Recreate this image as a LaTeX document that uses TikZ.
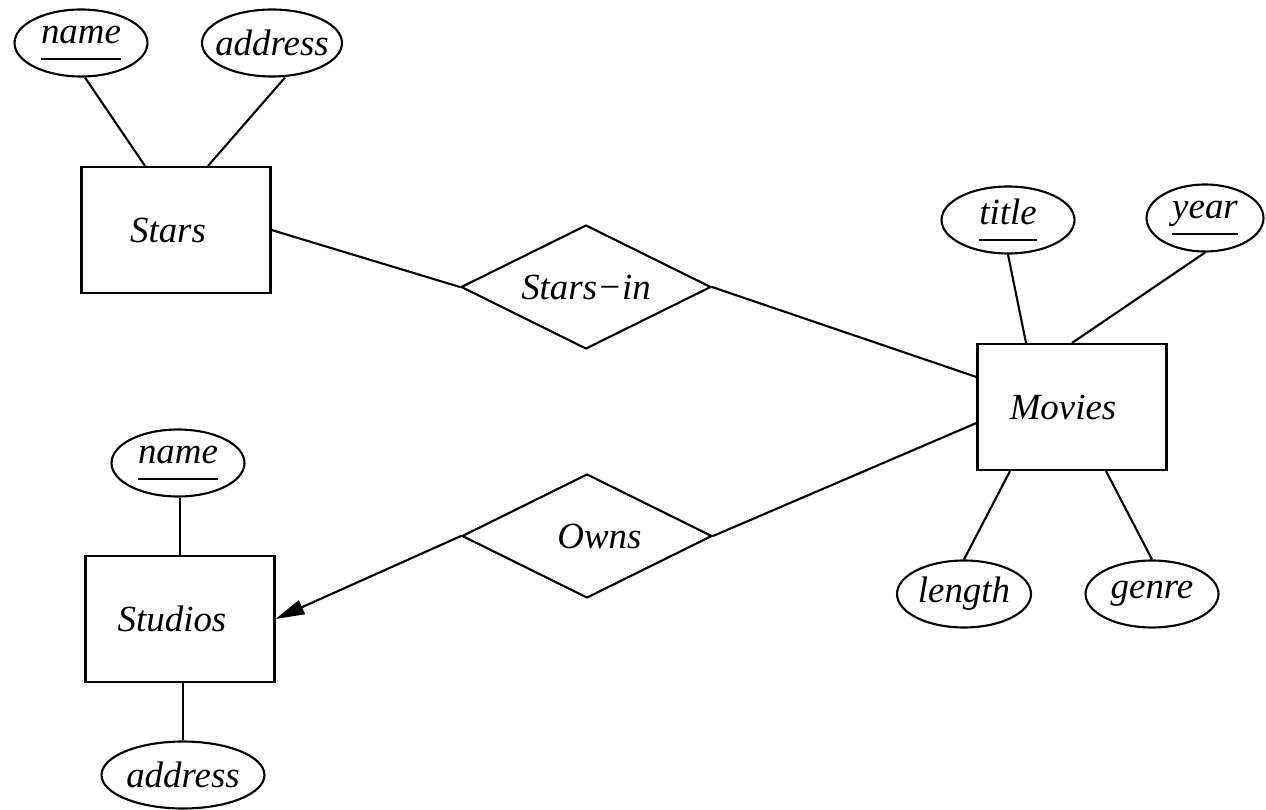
\documentclass[tikz,border=0pt]{standalone}
\usepackage{fontspec}
\setmainfont{Liberation Serif}
\usetikzlibrary{shapes.geometric,arrows.meta}
\newcommand\zw[1]{\hbox to 0pt{\hss#1\hss}}
\newcommand\ulin[1]{\setbox0\hbox{#1}\rlap{\rule[-0.45em]{\wd0}{0.055em}}\box0}
\begin{document}
\begin{tikzpicture}[x=0.02cm,y=-0.02cm,
  every node/.style={font=\fontsize{21}{25}\selectfont\itshape, line width=1.2pt},
  attr/.style={draw, ellipse, inner sep=0pt, minimum height=1.34cm},
  entity/.style={draw, rectangle, inner sep=0pt, minimum width=3.78cm, minimum height=2.52cm},
  rel/.style={draw, diamond, inner sep=0pt, minimum width=5cm, minimum height=2.48cm},
  conn/.style={line width=1.2pt}]
\useasboundingbox (0,0) rectangle (1266,810);
% nodes
\node[attr, minimum width=2.66cm] (sname) at (81,43) {\zw{\ulin{name}}};
\node[attr, minimum width=2.8cm] (saddr) at (272,43) {\zw{address}};
\node[entity] (stars) at (176,230) {\zw{\kern-0.32cm Stars}};
\node[rel] (starsin) at (586,287) {\zw{Stars\symbol{"2212}in}};
\node[entity] (movies) at (1072,407) {\zw{\kern-0.36cm Movies}};
\node[attr, minimum width=2.66cm] (title) at (1008,220) {\zw{\ulin{title}}};
\node[attr, minimum width=2.34cm] (year) at (1205,218) {\zw{\ulin{year}}};
\node[attr, minimum width=2.68cm] (length) at (964,594) {\zw{length}};
\node[attr, minimum width=2.66cm] (genre) at (1152,594) {\zw{genre}};
\node[rel] (owns) at (587,536) {\zw{\kern0.5cm Owns}};
\node[entity] (studios) at (180,619) {\zw{\kern-0.32cm Studios}};
\node[attr, minimum width=2.66cm] (dname) at (178,463) {\zw{\ulin{name}}};
\node[attr, minimum width=3.26cm] (daddr) at (183,775) {\zw{address}};
% connectors
\draw[conn] ([xshift=0.08cm]sname.south) -- ([xshift=-0.62cm]stars.north);
\draw[conn] ([xshift=0.26cm]saddr.south) -- ([xshift=0.64cm]stars.north);
\draw[conn] (stars.east) -- (starsin.west);
\draw[conn] (starsin.east) -- ([yshift=0.6cm]movies.west);
\draw[conn] (title.south) -- ([xshift=-0.92cm]movies.north);
\draw[conn] (year.south) -- (movies.north);
\draw[conn] ([xshift=-1.24cm]movies.south) -- (length.north);
\draw[conn] ([xshift=0.68cm]movies.south) -- (genre.north);
\draw[conn] ([yshift=-0.32cm]movies.west) -- (owns.east);
\draw[conn, -{Triangle[length=0.58cm,width=0.3cm]}] (owns.west) -- (studios.east);
\draw[conn] (studios.north) -- (studios.north |- dname.south);
\draw[conn] (daddr.north) -- (daddr.north |- studios.south);
\end{tikzpicture}
\end{document}
